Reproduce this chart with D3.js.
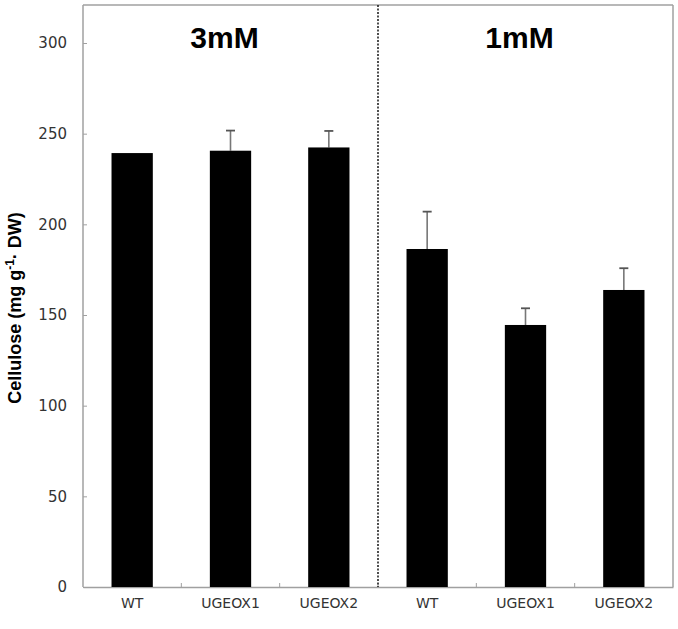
<!DOCTYPE html>
<html>
<head>
<meta charset="utf-8">
<script src="https://cdn.jsdelivr.net/npm/d3@7"></script>
<style>
  body { margin: 0; background: #fff; }
  svg { display: block; }
</style>
</head>
<body>
<div id="chart"></div>
<script>
// data
var groups = ["3mM", "1mM"];
var labels = ["WT", "UGEOX1", "UGEOX2", "WT", "UGEOX1", "UGEOX2"];
var values = [239.3, 240.6, 242.4, 186.4, 144.5, 163.8];
var errors = [0, 11.1, 9.1, 20.6, 9.2, 12.0];
var yTicks = [0, 50, 100, 150, 200, 250, 300];

var W = 678, H = 629;
var margin = {top: 5, right: 5, bottom: 42, left: 83},
    width = W - margin.left - margin.right,
    height = H - margin.top - margin.bottom;

var svg = d3.select("#chart")
  .append("svg")
    .attr("width", W)
    .attr("height", H)
  .append("g")
    .attr("transform", "translate(" + margin.left + "," + margin.top + ")");

var idx = d3.range(values.length);

var x = d3.scaleBand()
  .domain(idx)
  .range([0, width])
  .paddingInner(0.58)
  .paddingOuter(0.29);

// y scale: 0 at bottom axis, 300 near top
var y = d3.scaleLinear()
  .domain([0, 300])
  .range([height, 38]);

var axisCol = "#a0a0a0";

// frame top and right
svg.append("line")
  .attr("x1", 0).attr("x2", width).attr("y1", 0).attr("y2", 0)
  .attr("stroke", axisCol).attr("stroke-width", 1.5);
svg.append("line")
  .attr("x1", width).attr("x2", width).attr("y1", 0).attr("y2", height)
  .attr("stroke", axisCol).attr("stroke-width", 1.5);

// Y axis
var yAxis = svg.append("g")
  .call(d3.axisLeft(y).tickValues(yTicks).tickSize(-4).tickPadding(16));
yAxis.select(".domain").attr("stroke", axisCol).attr("stroke-width", 1.5)
  .attr("d", "M0," + height + "V0");
yAxis.selectAll(".tick line").attr("stroke", axisCol);
yAxis.selectAll("text")
  .attr("fill", "#333")
  .style("font-family", "DejaVu Sans, sans-serif")
  .style("font-size", "15px");

// X axis with ticks between categories
var step = x.step();
var xAxis = svg.append("g")
  .attr("transform", "translate(0," + height + ")")
  .call(d3.axisBottom(x).tickSize(0).tickPadding(11).tickFormat(function(i) { return labels[i]; }));
xAxis.select(".domain").attr("stroke", axisCol).attr("stroke-width", 1.5);
xAxis.selectAll("text")
  .attr("fill", "#333")
  .style("font-family", "DejaVu Sans, sans-serif")
  .style("font-size", "14px");
svg.selectAll(".sep")
  .data(d3.range(1, values.length))
  .enter().append("line")
    .attr("x1", function(d) { return d * step; })
    .attr("x2", function(d) { return d * step; })
    .attr("y1", height).attr("y2", height - 4)
    .attr("stroke", axisCol);

// dotted divider between the two groups
svg.append("line")
  .attr("x1", 3 * step).attr("x2", 3 * step)
  .attr("y1", 0).attr("y2", height)
  .attr("stroke", "#222").attr("stroke-width", 1.6)
  .attr("stroke-dasharray", "2,1.5");

// error bars (upper only)
idx.forEach(function(i) {
  if (!errors[i]) return;
  var cx = x(i) + x.bandwidth() / 2;
  svg.append("line")
    .attr("x1", cx).attr("x2", cx)
    .attr("y1", y(values[i])).attr("y2", y(values[i] + errors[i]))
    .attr("stroke", "#777").attr("stroke-width", 1.6);
  svg.append("line")
    .attr("x1", cx - 4.5).attr("x2", cx + 4.5)
    .attr("y1", y(values[i] + errors[i])).attr("y2", y(values[i] + errors[i]))
    .attr("stroke", "#555").attr("stroke-width", 1.8);
});

// bars
svg.selectAll(".bar")
  .data(idx)
  .enter().append("rect")
    .attr("x", function(i) { return x(i); })
    .attr("y", function(i) { return y(values[i]); })
    .attr("width", x.bandwidth())
    .attr("height", function(i) { return height - y(values[i]); })
    .attr("fill", "#000");

// group titles
svg.selectAll(".grp")
  .data(groups)
  .enter().append("text")
    .attr("x", function(d, k) { return (k * 3 + 1.5) * step - 6; })
    .attr("y", 43)
    .attr("text-anchor", "middle")
    .style("font-family", "Liberation Sans, Arial, sans-serif")
    .style("font-weight", "bold")
    .style("font-size", "30px")
    .text(function(d) { return d; });

// Y title
var yt = svg.append("text")
  .attr("transform", "translate(" + (21 - margin.left) + "," + (308 - margin.top) + ") rotate(-90)")
  .attr("text-anchor", "middle")
  .style("font-family", "Liberation Sans, Arial, sans-serif")
  .style("font-weight", "bold")
  .style("font-size", "18px");
yt.append("tspan").text("Cellulose (mg g");
yt.append("tspan").attr("dy", -7).style("font-size", "12px").text("-1");
yt.append("tspan").attr("dy", 7).text("· DW)");
</script>
</body>
</html>
